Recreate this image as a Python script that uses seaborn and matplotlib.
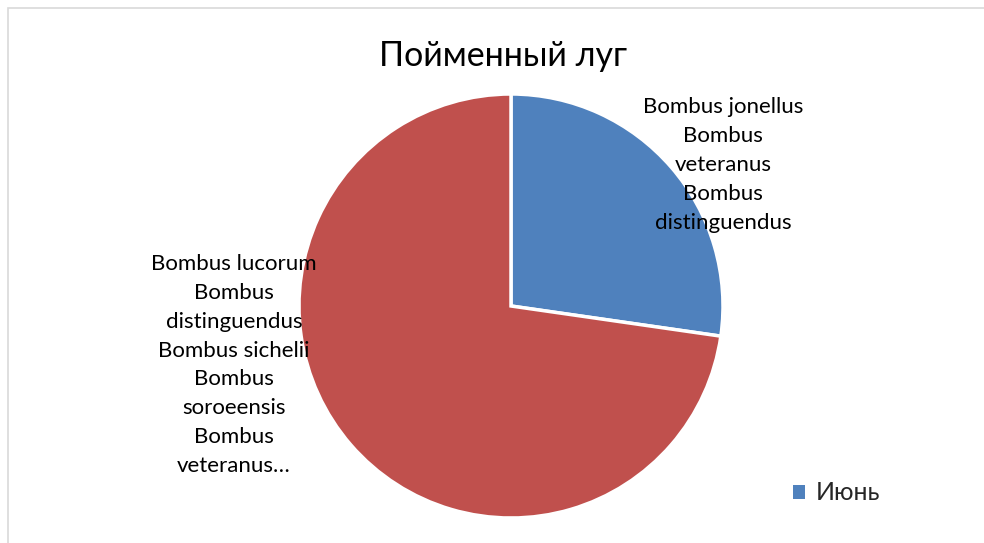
import matplotlib
matplotlib.use("Agg")
import matplotlib.pyplot as plt
import matplotlib.patches as mpatches
import seaborn as sns

title = "Пойменный луг"
series_name = "Июнь"
categories = [
    "Bombus jonellus\nBombus\nveteranus\nBombus\ndistinguendus",
    "Bombus lucorum\nBombus\ndistinguendus\nBombus sichelii\nBombus\nsoroeensis\nBombus\nveteranus…",
]
values = [3, 8]
colors = ["#4F81BD", "#C0504D"]

sns.set_theme(style="white")
plt.rcParams["font.family"] = ["Lato", "DejaVu Sans"]

W, H = 984, 543
fig = plt.figure(figsize=(W / 100, H / 100), dpi=100)
fig.patch.set_facecolor("white")
ax = fig.add_axes([0, 0, 1, 1])

ax.pie(values, colors=colors, startangle=90, counterclock=False,
       center=(511, H - 306), radius=212,
       wedgeprops=dict(edgecolor="white", linewidth=2.5))
ax.set_xlim(0, W)
ax.set_ylim(0, H)
ax.set_aspect("equal")
ax.axis("off")

# chart border
ax.add_patch(mpatches.Rectangle((8, -20), W + 20, H - 8 + 20, fill=False,
                                edgecolor="#D9D9D9", linewidth=1.2))

ax.text(503, H - 56, title, ha="center", va="center", fontsize=24.5, color="black")

ax.text(723, H - 165, categories[0], ha="center", va="center", fontsize=16,
        linespacing=1.55, color="black")
ax.text(234, H - 365, categories[1], ha="center", va="center", fontsize=16,
        linespacing=1.55, color="black")

handle = mpatches.Patch(facecolor=colors[0], edgecolor="none", label=series_name)
fig.legend(handles=[handle], loc="center left", bbox_to_anchor=(780 / W, 1 - 493 / H),
           frameon=False, fontsize=18, handlelength=0.5, handleheight=0.5,
           handletextpad=0.45, borderpad=0)

fig.savefig("out.png", dpi=100, facecolor="white")
